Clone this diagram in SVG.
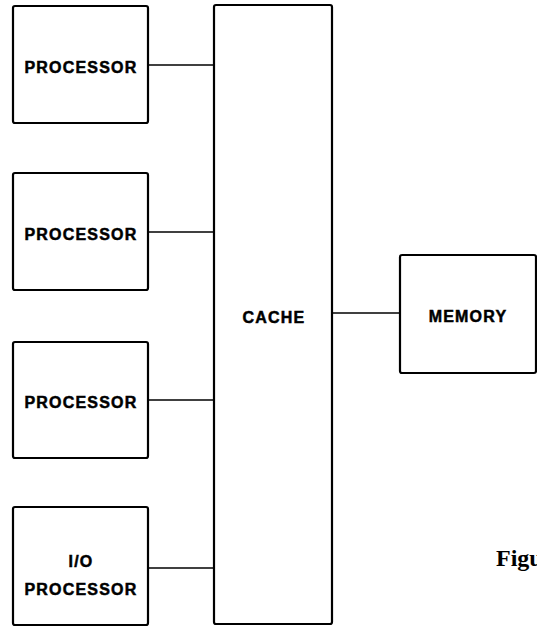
<svg xmlns="http://www.w3.org/2000/svg" width="537" height="628" viewBox="0 0 537 628">
<style>
.box{fill:#fff;stroke:#000;stroke-width:2.2}
.lbl{font-family:"Liberation Sans",Arial,sans-serif;font-weight:bold;font-size:16px;letter-spacing:1.2px;text-anchor:middle;fill:#000;stroke:#000;stroke-width:0.5}
.conn line{stroke:#000;stroke-width:1.6}
.cap{font-family:"Liberation Serif","Times New Roman",serif;font-weight:bold;font-size:24px;fill:#000}
</style>
<rect width="537" height="628" fill="#fff"/>
<g class="conn" id="connectors">
<line x1="148" y1="65" x2="214" y2="65"/>
<line x1="148" y1="232" x2="214" y2="232"/>
<line x1="148" y1="400" x2="214" y2="400"/>
<line x1="148" y1="568" x2="214" y2="568"/>
<line x1="332" y1="313" x2="400" y2="313"/>
</g>
<g id="proc1"><rect class="box" x="13" y="6" width="135" height="117" rx="2"/><text class="lbl" x="81" y="73">PROCESSOR</text></g>
<g id="proc2"><rect class="box" x="13" y="173" width="135" height="117" rx="2"/><text class="lbl" x="81" y="240">PROCESSOR</text></g>
<g id="proc3"><rect class="box" x="13" y="342" width="135" height="116" rx="2"/><text class="lbl" x="81" y="408">PROCESSOR</text></g>
<g id="io"><rect class="box" x="13" y="507" width="135" height="118" rx="2"/><text class="lbl" x="81" y="567">I/O</text><text class="lbl" x="81" y="595">PROCESSOR</text></g>
<g id="cache"><rect class="box" x="214" y="5" width="118" height="619" rx="2"/><text class="lbl" x="274" y="323">CACHE</text></g>
<g id="memory"><rect class="box" x="400" y="255" width="136" height="118" rx="2"/><text class="lbl" x="468" y="322">MEMORY</text></g>
<text class="cap" x="496" y="566">Figu</text>
</svg>
